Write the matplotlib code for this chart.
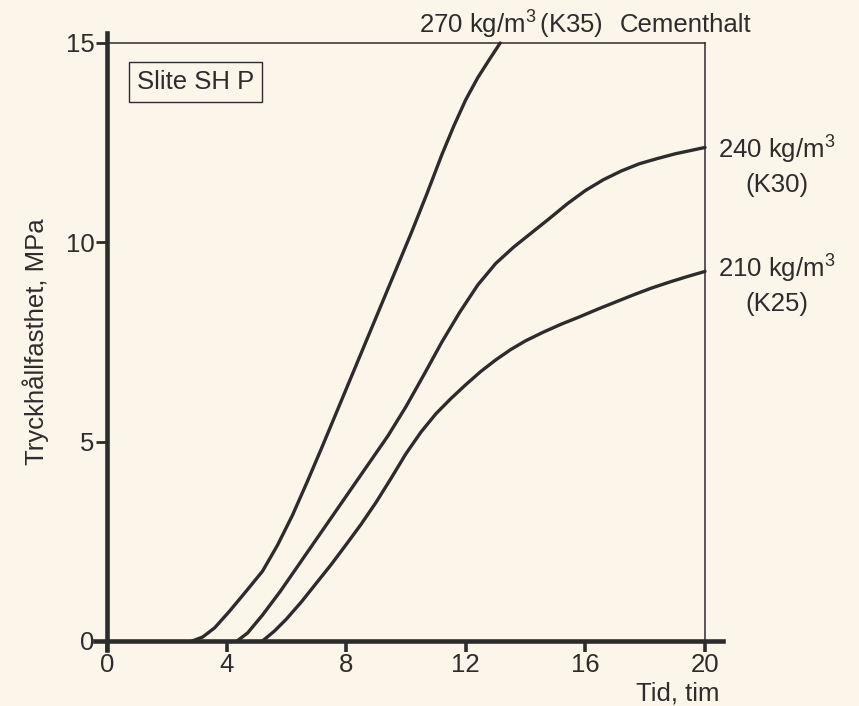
import matplotlib
matplotlib.use("Agg")
import matplotlib.pyplot as plt

plt.rcParams['font.family'] = ['Liberation Sans', 'DejaVu Sans']
plt.rcParams['mathtext.fontset'] = 'custom'
plt.rcParams['mathtext.rm'] = 'Liberation Sans'
plt.rcParams['mathtext.it'] = 'Liberation Sans:italic'
plt.rcParams['mathtext.bf'] = 'Liberation Sans:bold'
plt.rcParams['mathtext.default'] = 'rm'

# Data
k35_x = [2.85, 3.2, 3.6, 4.1, 4.6, 5.2, 5.7, 6.2, 6.7, 7.2, 7.7, 8.2, 8.7, 9.2, 9.7,
         10.2, 10.7, 11.2, 11.6, 12.0, 12.4, 12.8, 13.15]
k35_y = [0.0, 0.1, 0.33, 0.75, 1.2, 1.75, 2.4, 3.15, 4.0, 4.88, 5.78, 6.68, 7.58, 8.48, 9.38,
         10.28, 11.22, 12.2, 12.92, 13.58, 14.13, 14.6, 15.0]

k30_x = [4.35, 4.7, 5.2, 5.8, 6.4, 7.0, 7.6, 8.2, 8.8, 9.4, 10.0, 10.6, 11.2, 11.8,
         12.4, 13.0, 13.6, 14.2, 14.8, 15.4, 16.0, 16.6, 17.2, 17.8, 18.4, 19.0, 19.5, 20.0]
k30_y = [0.0, 0.2, 0.65, 1.25, 1.9, 2.55, 3.2, 3.85, 4.5, 5.15, 5.88, 6.68, 7.5, 8.25,
         8.93, 9.47, 9.88, 10.24, 10.6, 10.97, 11.3, 11.57, 11.79, 11.97, 12.1, 12.22, 12.3, 12.38]

k25_x = [5.2, 5.6, 6.0, 6.5, 7.0, 7.5, 8.0, 8.5, 9.0, 9.5, 10.0, 10.5, 11.0, 11.5, 12.0,
         12.5, 13.0, 13.5, 14.0, 14.6, 15.2, 15.8, 16.4, 17.0, 17.6, 18.2, 18.8, 19.4, 20.0]
k25_y = [0.0, 0.25, 0.55, 0.98, 1.45, 1.92, 2.42, 2.93, 3.48, 4.08, 4.7, 5.24, 5.7, 6.08, 6.43,
         6.76, 7.05, 7.31, 7.53, 7.75, 7.95, 8.13, 8.32, 8.5, 8.68, 8.85, 9.0, 9.14, 9.27]

x_ticks = [0, 4, 8, 12, 16, 20]
y_ticks = [0, 5, 10, 15]

bg = '#FCF5EA'
ink = '#2e2c2a'
fs = 18.5

fig = plt.figure(figsize=(8.59, 7.06), dpi=100, facecolor=bg)
W, H = 859, 706
ax = fig.add_axes([107 / W, 1 - 641 / H, (705 - 107) / W, (641 - 43) / H])
ax.set_facecolor(bg)
ax.set_xlim(0, 20)
ax.set_ylim(0, 15)

for xs, ys in [(k35_x, k35_y), (k30_x, k30_y), (k25_x, k25_y)]:
    ax.plot(xs, ys, color=ink, lw=2.4, solid_capstyle='round', solid_joinstyle='round',
            clip_on=False, zorder=3)

# spines
ax.spines['left'].set_visible(False)
ax.spines['bottom'].set_visible(False)
for s in ['top', 'right']:
    ax.spines[s].set_linewidth(1.1)
    ax.spines[s].set_color(ink)
ax.axhline(0, xmin=-0.02, xmax=1.03, color=ink, lw=3.3, clip_on=False, zorder=4)
ax.axvline(0, ymin=-0.015, ymax=1.017, color=ink, lw=3.3, clip_on=False, zorder=4)

ax.set_xticks(x_ticks)
ax.set_yticks(y_ticks)
ax.set_xticklabels([str(v) for v in x_ticks])
ax.set_yticklabels([str(v) for v in y_ticks])
ax.tick_params(axis='x', direction='out', length=8, width=2.6, color=ink,
               labelsize=fs, labelcolor=ink, pad=1)
ax.tick_params(axis='y', direction='out', length=8, width=2.0, color=ink,
               labelsize=fs, labelcolor=ink, pad=1)

ax.set_ylabel('Tryckhållfasthet, MPa', fontsize=fs, color=ink, labelpad=12)

ax.text(1.025, -0.087, 'Tid, tim', transform=ax.transAxes, ha='right', va='center',
        fontsize=fs, color=ink)

ax.text(0.148, 0.935, 'Slite SH P', transform=ax.transAxes, ha='center', va='center',
        fontsize=fs, color=ink,
        bbox=dict(boxstyle='square,pad=0.3', fc=bg, ec=ink, lw=1.0))

ax.text(0.676, 1.03, r'270 kg/m$^{3}\,$(K35)', transform=ax.transAxes, ha='center', va='center',
        fontsize=fs, color=ink)
ax.text(0.967, 1.03, 'Cementhalt', transform=ax.transAxes, ha='center', va='center',
        fontsize=fs, color=ink)

ax.text(1.12, 0.822, '240 kg/m$^{3}$', transform=ax.transAxes, ha='center', va='center',
        fontsize=fs, color=ink)
ax.text(1.12, 0.763, '(K30)', transform=ax.transAxes, ha='center', va='center',
        fontsize=fs, color=ink)
ax.text(1.12, 0.622, '210 kg/m$^{3}$', transform=ax.transAxes, ha='center', va='center',
        fontsize=fs, color=ink)
ax.text(1.12, 0.563, '(K25)', transform=ax.transAxes, ha='center', va='center',
        fontsize=fs, color=ink)

fig.savefig('out.png', dpi=100, facecolor=bg)
